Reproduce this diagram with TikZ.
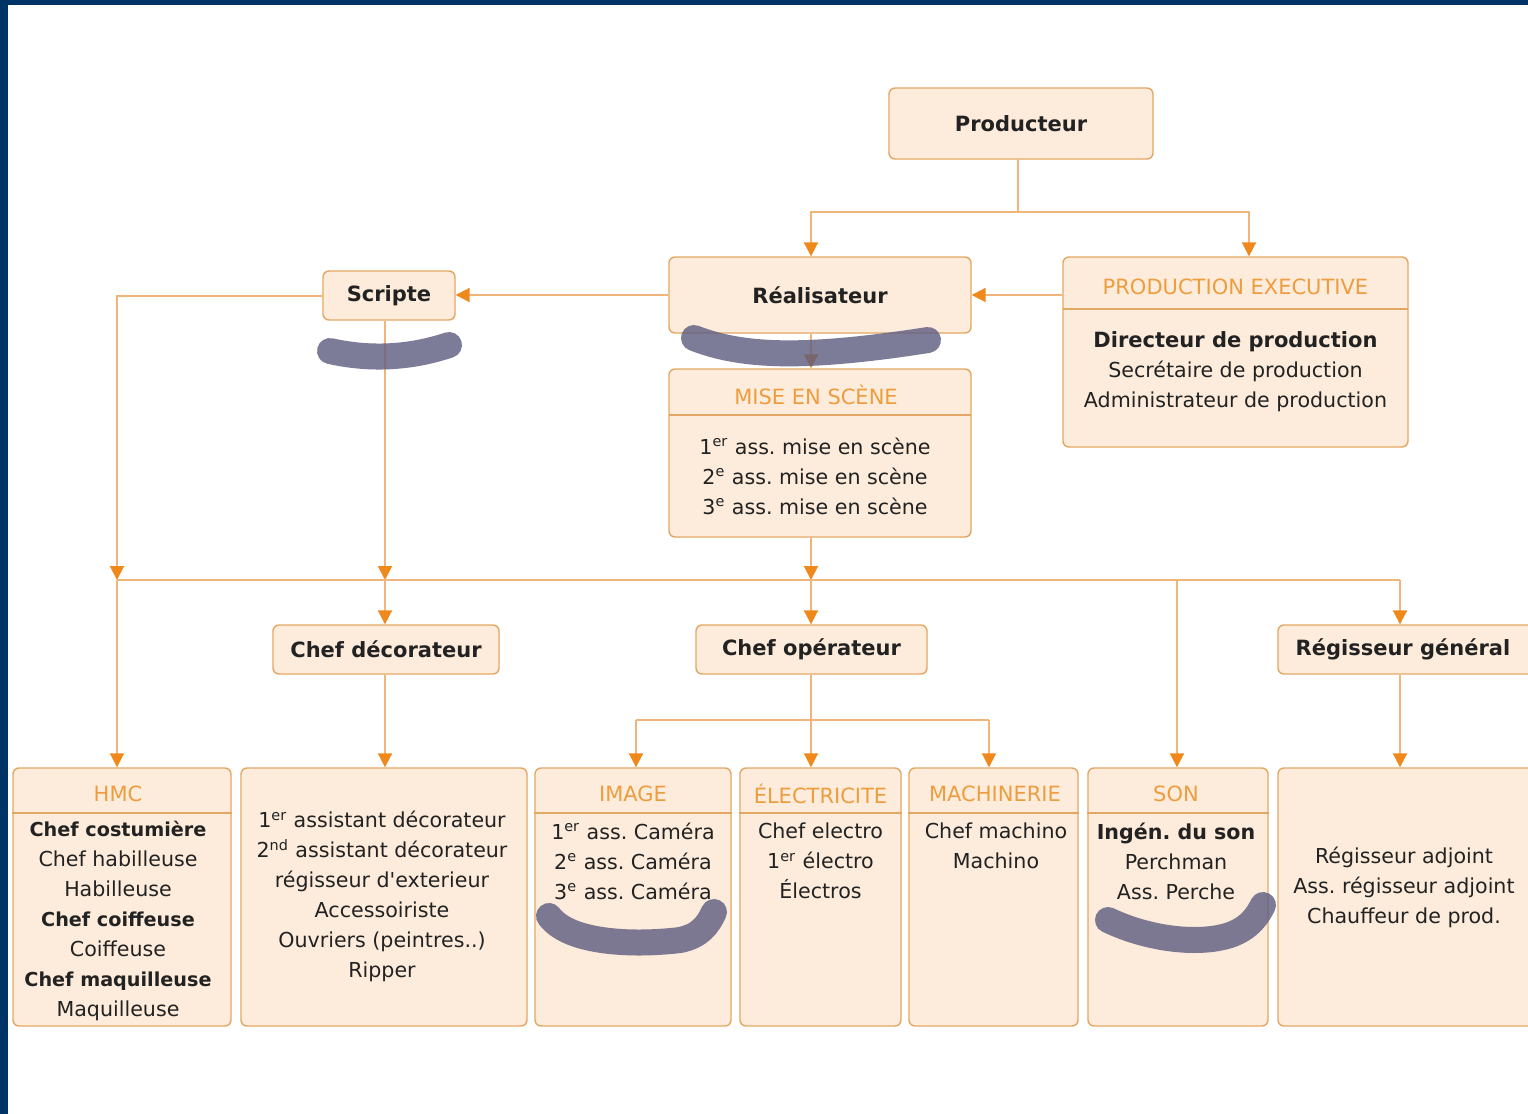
\documentclass[tikz,border=0pt]{standalone}
\usepackage{fontspec}
\setmainfont{DejaVu Sans}
\usetikzlibrary{arrows.meta}
\definecolor{framecol}{HTML}{003366}
\definecolor{boxfill}{HTML}{FDECDB}
\definecolor{boxdraw}{HTML}{E3A764}
\definecolor{hdrtext}{HTML}{EE9D3E}
\definecolor{lncol}{HTML}{F0B57A}
\definecolor{tipcol}{HTML}{F0891C}
\definecolor{txt}{HTML}{222222}
\definecolor{scrib}{HTML}{5C5C80}
\frenchspacing
\begin{document}
\begin{tikzpicture}[x=0.5pt,y=-0.5pt,
  box/.style={draw=boxdraw, fill=boxfill, rounded corners=3pt, line width=0.7pt, inner sep=0pt},
  lbl/.style={text=txt, font=\fontsize{10.5}{13}\selectfont\bfseries},
  hdr/.style={text=hdrtext, font=\fontsize{10.5}{13}\selectfont, inner sep=0pt},
  body/.style={text=txt, align=center, font=\fontsize{10.3}{15}\selectfont, inner sep=0pt},
  ln/.style={draw=lncol, line width=1pt},
  arr/.style={ln, -{Triangle[width=7pt,length=7pt,color=tipcol]}},
  sep/.style={draw=boxdraw, line width=0.7pt},
  scr/.style={draw=scrib, line width=13pt, line cap=round, line join=round, opacity=0.8},
]
\useasboundingbox (0,0) rectangle (1528,1114);
\fill[white] (0,0) rectangle (1528,1114);
\fill[framecol] (0,0) rectangle (1528,5);
\fill[framecol] (0,0) rectangle (8,1114);

% column / row coordinates
\coordinate (xA) at (117,0);
\coordinate (xScr) at (385,0);
\coordinate (xMes) at (811,0);
\coordinate (xSon) at (1177,0);
\coordinate (xReg) at (1400,0);
\coordinate (xImg) at (636,0);
\coordinate (xMach) at (989,0);
\coordinate (xPE) at (1249,0);
\coordinate (bus) at (0,580);
\coordinate (obus) at (0,720);
\coordinate (pj) at (1018,212);

% top nodes
\node[box, lbl, minimum width=132pt, minimum height=35.5pt] (prod) at (1021,123.5) {Producteur};
\node[box, lbl, minimum width=151pt, minimum height=38pt] (real) at (820,295) {Réalisateur};
\node[box, lbl, minimum width=66pt, minimum height=24.5pt] (scripte) at (389,295.5) {Scripte};
\node[box, minimum width=172.5pt, minimum height=95pt] (pe) at (1235.5,352) {};
\draw[sep] (1063,309) -- (1408,309);
\node[hdr] (peh) at (1235.5,287) {PRODUCTION EXECUTIVE};
\node[body] (peb) at (1235.5,372) {{\fontsize{10.5}{15}\selectfont\bfseries Directeur de production}\\Secrétaire de production\\Administrateur de production};

\node[box, minimum width=151pt, minimum height=84pt] (mes) at (820,453) {};
\draw[sep] (669,415) -- (971,415);
\node[hdr] (mesh) at (816,395) {MISE EN SCÈNE};
\node[body] (mesb) at (815,476) {1\textsuperscript{er} ass. mise en scène\\2\textsuperscript{e} ass. mise en scène\\3\textsuperscript{e} ass. mise en scène};

% middle row
\node[box, lbl, minimum width=113pt, minimum height=24.5pt] (chefdeco) at (386,649.5) {Chef décorateur};
\node[box, lbl, minimum width=115.5pt, minimum height=24.5pt] (chefop) at (811.5,649.5) {Chef opérateur};
\node[box, minimum width=131pt, minimum height=24.5pt] (regen) at (1409,649.5) {};
\node[lbl] (regentxt) at (1403,649.5) {Régisseur général};

% bottom row
\node[box, minimum width=109pt, minimum height=129pt] (hmc) at (122,897) {};
\node[box, minimum width=143pt, minimum height=129pt] (deco) at (384,897) {};
\node[box, minimum width=98pt, minimum height=129pt] (img) at (633,897) {};
\node[box, minimum width=80.5pt, minimum height=129pt] (elec) at (820.5,897) {};
\node[box, minimum width=84.5pt, minimum height=129pt] (mach) at (993.5,897) {};
\node[box, minimum width=90pt, minimum height=129pt] (son) at (1178,897) {};
\node[box, minimum width=131pt, minimum height=129pt] (reg) at (1409,897) {};

\foreach \n in {hmc,img,elec,mach,son}{
  \draw[sep] (\n.west |- 0,813) -- (\n.east |- 0,813);
}
\node[hdr] (hmch) at (118,794) {HMC};
\node[hdr] (imgh) at (633,794) {IMAGE};
\node[hdr] (elech) at (820.5,794) {ÉLECTRICITE};
\node[hdr] (machh) at (995,794) {MACHINERIE};
\node[hdr] (sonh) at (1176,794) {SON};

\node[body] (hmcb) at (118,921) {{\fontsize{9.6}{15}\selectfont\bfseries Chef costumière}\\Chef habilleuse\\Habilleuse\\{\fontsize{9.6}{15}\selectfont\bfseries Chef coiffeuse}\\Coiffeuse\\{\fontsize{9.6}{15}\selectfont\bfseries Chef maquilleuse}\\Maquilleuse};
\node[body] (decob) at (382,896.5) {1\textsuperscript{er} assistant décorateur\\2\textsuperscript{nd} assistant décorateur\\régisseur d\textquotesingle exterieur\\Accessoiriste\\Ouvriers (peintres..)\\Ripper};
\node[body] (imgb) at (633,861) {1\textsuperscript{er} ass. Caméra\\2\textsuperscript{e} ass. Caméra\\3\textsuperscript{e} ass. Caméra};
\node[body] (elecb) at (820.5,861) {Chef electro\\1\textsuperscript{er} électro\\Électros};
\node[body] (machb) at (996,846) {Chef machino\\Machino};
\node[body] (sonb) at (1176,861) {{\fontsize{10.3}{15}\selectfont\bfseries Ingén. du son}\\Perchman\\Ass. Perche};
\node[body] (regb) at (1404,887.5) {Régisseur adjoint\\Ass. régisseur adjoint\\Chauffeur de prod.};

% connectors
\draw[ln] (prod.south -| pj) -- (pj);
\draw[arr] (pj) -| (real.north -| xMes);
\draw[arr] (pj) -| (pe.north -| xPE);
\draw[arr] (pe.west |- real.east) -- (real.east);
\draw[arr] (real.west) -- (real.west -| scripte.east);
\draw[arr] (real.south -| xMes) -- (mes.north -| xMes);
\draw[arr] (scripte.west) -| (xA |- bus);
\draw[arr] (scripte.south -| xScr) -- (xScr |- bus);
\draw[arr] (mes.south -| xMes) -- (xMes |- bus);
\draw[ln] (xA |- bus) -- (xReg |- bus);
\draw[arr] (xA |- bus) -- (hmc.north -| xA);
\draw[arr] (xScr |- bus) -- (chefdeco.north -| xScr);
\draw[arr] (xMes |- bus) -- (chefop.north -| xMes);
\draw[arr] (xSon |- bus) -- (son.north -| xSon);
\draw[arr] (xReg |- bus) -- (regen.north -| xReg);
\draw[arr] (chefdeco.south -| xScr) -- (deco.north -| xScr);
\draw[arr] (chefop.south -| xMes) -- (elec.north -| xMes);
\draw[ln] (xImg |- obus) -- (xMach |- obus);
\draw[arr] (xImg |- obus) -- (img.north -| xImg);
\draw[arr] (xMach |- obus) -- (mach.north -| xMach);
\draw[arr] (regen.south -| xReg) -- (reg.north -| xReg);

% scribbles
\draw[scr] (330,351) .. controls (370,360) and (410,358) .. (449,345);
\draw[scr] (694,338) .. controls (740,356) and (800,360) .. (928,340);
\draw[scr] (549,916) .. controls (570,945) and (640,945) .. (680,940) .. controls (700,936) and (708,925) .. (714,912);
\draw[scr] (1108,920) .. controls (1150,940) and (1200,945) .. (1230,935) .. controls (1250,928) and (1258,915) .. (1263,905);
\end{tikzpicture}
\end{document}
